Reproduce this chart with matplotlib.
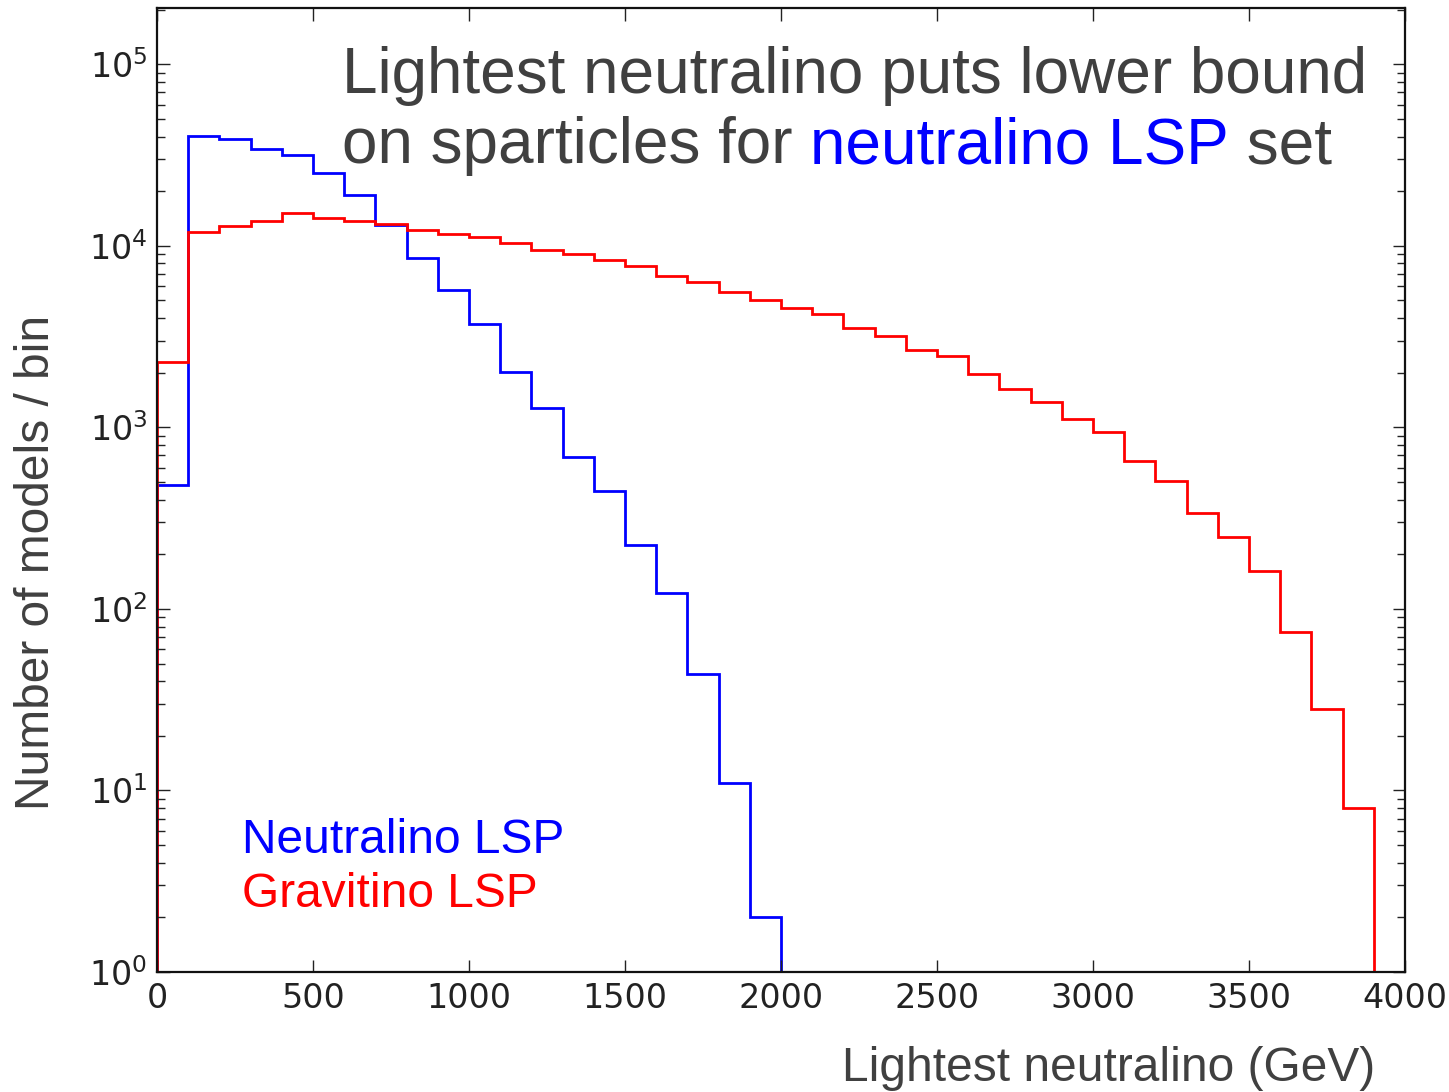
import numpy as np
import matplotlib
matplotlib.use("Agg")
import matplotlib.pyplot as plt
from matplotlib.ticker import LogLocator, NullLocator

W, H = 1449, 1092
INK = "#404040"
SANS = "Liberation Sans"

# histogram counts per 100 GeV bin
bin_width = 100
neutralino_counts = [480, 40500, 38600, 34000, 31500, 25100, 19000, 13000, 8600, 5700,
                     3700, 2010, 1275, 686, 448, 224, 122, 44, 11, 2]
gravitino_counts = [2290, 11930, 12880, 13650, 15070, 14320, 13710, 13150, 12240, 11690,
                    11120, 10300, 9540, 9070, 8370, 7740, 6820, 6350, 5570, 5030,
                    4530, 4200, 3530, 3190, 2660, 2466, 1960, 1630, 1377, 1119,
                    937, 654, 508, 337, 248, 161, 75, 28, 8]

neutralino_edges = np.arange(len(neutralino_counts) + 1) * bin_width
gravitino_edges = np.arange(len(gravitino_counts) + 1) * bin_width

x_ticks = [0, 500, 1000, 1500, 2000, 2500, 3000, 3500, 4000]


def px(x, y):
    """pixel position (from top-left) -> figure fraction"""
    return x / W, 1 - y / H


fig = plt.figure(figsize=(W / 100, H / 100), dpi=100, facecolor="white")
ax = fig.add_axes([157 / W, 1 - 972 / H, (1405 - 157) / W, (972 - 8) / H])

ax.stairs(neutralino_counts, neutralino_edges, baseline=0, color="#0000ff", lw=2)
ax.stairs(gravitino_counts, gravitino_edges, baseline=0, color="#ff0000", lw=2)

ax.set_yscale("log")
ax.set_xlim(0, 4000)
ax.set_ylim(1, 10 ** 5.31)
ax.set_xticks(x_ticks)
ax.xaxis.set_minor_locator(NullLocator())
ax.yaxis.set_major_locator(LogLocator(base=10, numticks=10))
ax.yaxis.set_minor_locator(LogLocator(base=10, subs=np.arange(2, 10), numticks=20))

ax.tick_params(which="both", direction="in", top=True, right=True, width=1.0,
               color="#222222", labelcolor="#222222", labelsize=24, pad=7)
ax.tick_params(which="major", length=9)
ax.tick_params(which="minor", length=5.5)
for s in ax.spines.values():
    s.set_linewidth(1.6)
    s.set_color("#111111")

# headline, two lines with a coloured phrase
fig.text(*px(342, 93), "Lightest neutralino puts lower bound", fontsize=46,
         family=SANS, color=INK, va="baseline", ha="left")
t1 = fig.text(*px(342, 163), "on sparticles for ", fontsize=46,
              family=SANS, color=INK, va="baseline", ha="left")
t2 = ax.annotate("neutralino LSP", xy=(1, 0), xycoords=t1, va="bottom", ha="left",
                 fontsize=46, family=SANS, color="#0000ff", annotation_clip=False)
ax.annotate(" set", xy=(1, 0), xycoords=t2, va="bottom", ha="left",
            fontsize=46, family=SANS, color=INK, annotation_clip=False)

# series labels
fig.text(*px(242, 853), "Neutralino LSP", fontsize=34.5, family=SANS,
         color="#0000ff", va="baseline", ha="left")
fig.text(*px(242, 907), "Gravitino LSP", fontsize=34.5, family=SANS,
         color="#ff0000", va="baseline", ha="left")

# axis titles
fig.text(*px(842, 1081), "Lightest neutralino (GeV)", fontsize=34.5, family=SANS,
         color=INK, va="baseline", ha="left")
fig.text(*px(49, 810), "Number of models / bin", fontsize=34.5, family=SANS,
         color=INK, va="baseline", ha="left", rotation=90, rotation_mode="anchor")

fig.savefig("out.png", dpi=100, facecolor="white")
